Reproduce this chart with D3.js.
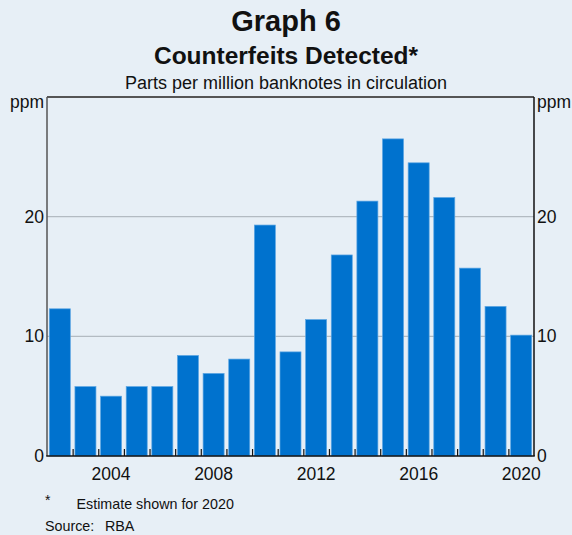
<!DOCTYPE html>
<html>
<head>
<meta charset="utf-8">
<script src="https://cdn.jsdelivr.net/npm/d3@7"></script>
<style>
  html, body { margin: 0; padding: 0; background: #E7EFF6; }
  svg { display: block; }
  text { font-family: Arial, "Liberation Sans", sans-serif; fill: #111; }
</style>
</head>
<body>
<script>
// ---- data ----
const years = [2002, 2003, 2004, 2005, 2006, 2007, 2008, 2009, 2010, 2011,
               2012, 2013, 2014, 2015, 2016, 2017, 2018, 2019, 2020];
const counterfeitsPpm = [12.3, 5.8, 5.0, 5.8, 5.8, 8.4, 6.9, 8.1, 19.3, 8.7,
                         11.4, 16.8, 21.3, 26.5, 24.5, 21.6, 15.7, 12.5, 10.1];
const yTicks = [0, 10, 20];
const xLabelYears = [2004, 2008, 2012, 2016, 2020];
const title = "Graph 6";
const subtitle = "Counterfeits Detected*";
const units = "Parts per million banknotes in circulation";
const footnote = "Estimate shown for 2020";
const source = "RBA";

// ---- layout ----
const W = 572, H = 535;
const L = 47, R = 534, T = 97, B = 456;

const svg = d3.select("body").append("svg").attr("width", W).attr("height", H);
svg.append("rect").attr("width", W).attr("height", H).attr("fill", "#E7EFF6");

const x = d3.scaleBand().domain(years).range([L, R]).paddingInner(0.18).paddingOuter(0.09);
const xEdge = d3.scaleLinear().domain([years[0], years[years.length - 1] + 1]).range([L, R]);
const y = d3.scaleLinear().domain([0, 30]).range([B, T]);

// titles
svg.append("text").attr("x", W / 2).attr("y", 30.5).attr("text-anchor", "middle")
  .style("font-size", "29px").style("font-weight", "bold").text(title);
svg.append("text").attr("x", W / 2).attr("y", 64).attr("text-anchor", "middle")
  .style("font-size", "24.5px").style("font-weight", "bold").text(subtitle);
svg.append("text").attr("x", W / 2).attr("y", 89).attr("text-anchor", "middle")
  .style("font-size", "18px").text(units);

// gridlines
svg.append("g").selectAll("line").data(yTicks.filter(d => d > 0)).join("line")
  .attr("x1", L).attr("x2", R).attr("y1", d => y(d)).attr("y2", d => y(d))
  .attr("stroke", "#B3BBC2").attr("stroke-width", 1.2);

// bars
svg.append("g").selectAll("rect").data(years).join("rect")
  .attr("x", d => x(d))
  .attr("width", x.bandwidth())
  .attr("y", (d, i) => y(counterfeitsPpm[i]))
  .attr("height", (d, i) => y(0) - y(counterfeitsPpm[i]))
  .attr("fill", "#0072CE")
  .attr("stroke", "#5CA6E3").attr("stroke-width", 0.7);

// top border
svg.append("line").attr("x1", L).attr("x2", R).attr("y1", y(30)).attr("y2", y(30))
  .attr("stroke", "#555").attr("stroke-width", 2);

// x boundary ticks
const xTickAxis = d3.axisBottom(xEdge).tickValues(d3.range(years[0] + 1, years[years.length - 1] + 1))
  .tickSize(-7).tickFormat("");
const gxt = svg.append("g").attr("transform", `translate(0,${B})`).call(xTickAxis);
gxt.select(".domain").remove();
gxt.selectAll("line").attr("stroke", "#111").attr("stroke-width", 1.2);

// x labels
const xLabelAxis = d3.axisBottom(x).tickValues(xLabelYears).tickSize(0).tickPadding(12);
const gxl = svg.append("g").attr("transform", `translate(0,${B})`).call(xLabelAxis);
gxl.select(".domain").remove();
gxl.selectAll("text").style("font-size", "17.5px").attr("fill", "#111")
  .style("font-family", "Arial, 'Liberation Sans', sans-serif");

// y axes labels
const yl = d3.axisLeft(y).tickValues(yTicks).tickSize(0).tickPadding(3);
const gyl = svg.append("g").attr("transform", `translate(${L},0)`).call(yl);
gyl.select(".domain").remove();
gyl.selectAll("text").style("font-size", "17.5px").attr("fill", "#111")
  .style("font-family", "Arial, 'Liberation Sans', sans-serif");

const yr = d3.axisRight(y).tickValues(yTicks).tickSize(0).tickPadding(3);
const gyr = svg.append("g").attr("transform", `translate(${R},0)`).call(yr);
gyr.select(".domain").remove();
gyr.selectAll("text").style("font-size", "17.5px").attr("fill", "#111")
  .style("font-family", "Arial, 'Liberation Sans', sans-serif");

// axis lines
svg.append("line").attr("x1", L).attr("x2", L).attr("y1", T).attr("y2", B)
  .attr("stroke", "#555").attr("stroke-width", 1.5);
svg.append("line").attr("x1", R).attr("x2", R).attr("y1", T).attr("y2", B)
  .attr("stroke", "#111").attr("stroke-width", 1.5);
svg.append("line").attr("x1", L - 0.75).attr("x2", R + 0.75).attr("y1", B).attr("y2", B)
  .attr("stroke", "#111").attr("stroke-width", 1.5);

// ppm unit labels
svg.append("text").attr("x", L - 3).attr("y", 108).attr("text-anchor", "end")
  .style("font-size", "17.5px").text("ppm");
svg.append("text").attr("x", R + 3).attr("y", 108).attr("text-anchor", "start")
  .style("font-size", "17.5px").text("ppm");

// footnotes
svg.append("text").attr("x", 45).attr("y", 505).style("font-size", "14px").text("*");
svg.append("text").attr("x", 76.5).attr("y", 509).style("font-size", "14.3px").text(footnote);
svg.append("text").attr("x", 45).attr("y", 531).style("font-size", "14.3px").text("Source:");
svg.append("text").attr("x", 105).attr("y", 531).style("font-size", "14.3px").text(source);
</script>
</body>
</html>
